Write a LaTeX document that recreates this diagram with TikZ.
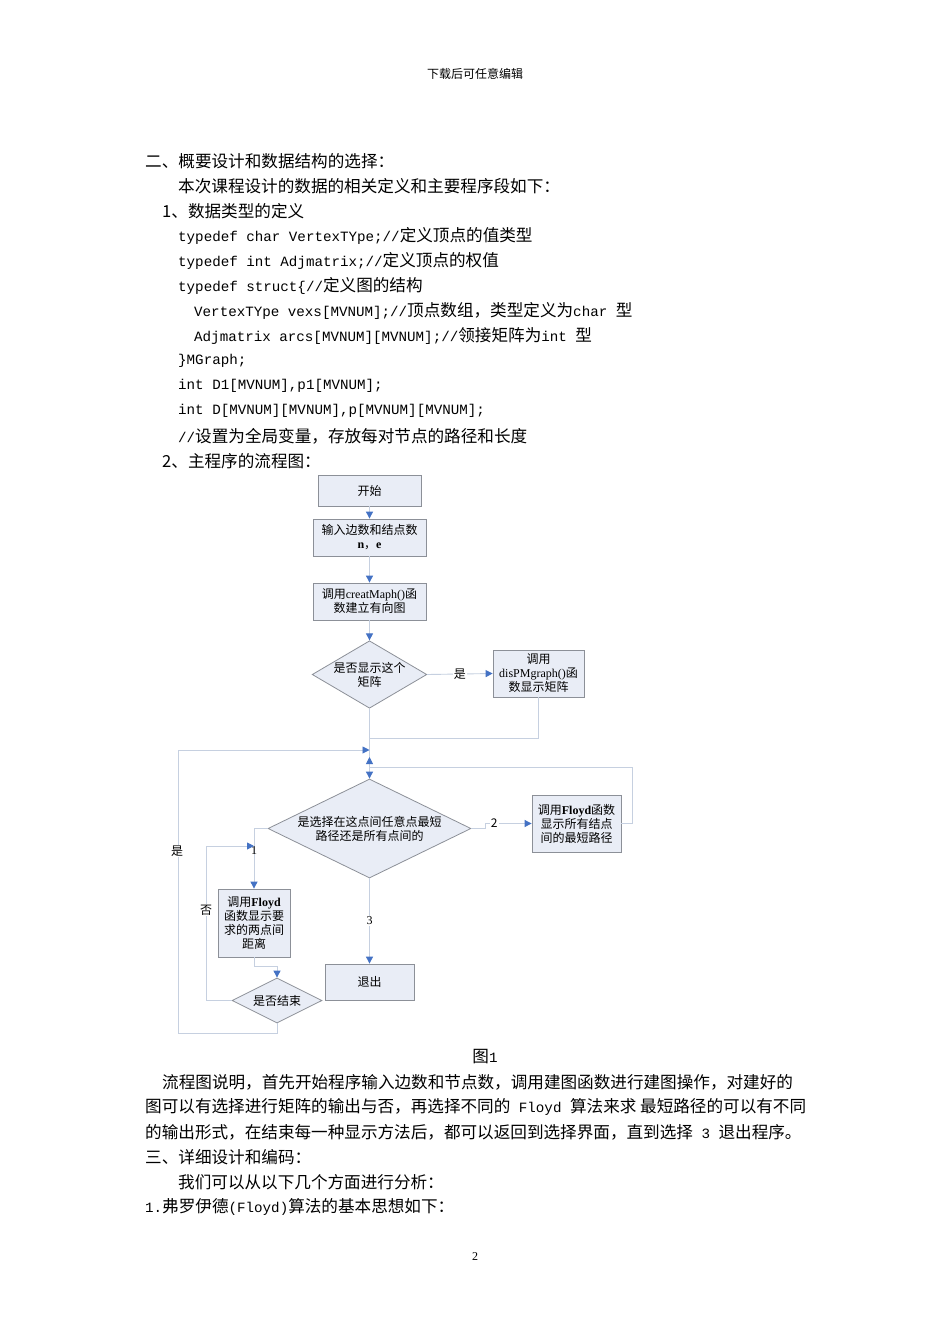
\documentclass[tikz,border=0pt]{standalone}
\usepackage{fontspec}
\setmainfont{Noto Sans CJK SC}
\newfontfamily\cm{Liberation Mono}
\newfontfamily\sr{Liberation Serif}
\usetikzlibrary{shapes.geometric,arrows.meta}
\definecolor{fillc}{HTML}{E9EDF6}
\definecolor{bordc}{HTML}{8C9098}
\definecolor{linec}{HTML}{C6D0E0}
\definecolor{arrc}{HTML}{4472C4}
\begin{document}
\begin{tikzpicture}[x=1pt,y=-1pt,
  txt/.style={anchor=west,inner sep=0pt,font=\fontsize{16.6}{16.6}\selectfont},
  fbox/.style={draw=bordc,fill=fillc,line width=0.8pt,inner sep=1pt,align=center,font=\fontsize{12}{14}\selectfont},
  fdia/.style={draw=bordc,fill=fillc,line width=0.8pt,diamond,inner sep=0pt,align=center,font=\fontsize{12}{14}\selectfont},
  conn/.style={draw=linec,line width=0.9pt,-{Triangle[length=7pt,width=7pt,color=arrc]}},
  plain/.style={draw=linec,line width=0.9pt},
  lab/.style={font=\fontsize{12}{12}\selectfont,inner sep=1pt,fill=white}]
\useasboundingbox (0,0) rectangle (950,1344);
\fill[white] (0,0) rectangle (950,1344);
\node[font=\fontsize{12}{12}\selectfont] (hdr) at (475,74) {下载后可任意编辑};
\newcommand\cd[1]{{\cm\fontsize{14.2}{14.2}\selectfont #1}}
\node[txt] (l1) at (145,161) {二、概要设计和数据结构的选择：};
\node[txt] (l2) at (178,186) {本次课程设计的数据的相关定义和主要程序段如下：};
\node[txt] (l3) at (162,211) {1、数据类型的定义};
\node[txt] (l4) at (178,236) {\cd{typedef char VertexTYpe;//}定义顶点的值类型};
\node[txt] (l5) at (178,261) {\cd{typedef int Adjmatrix;//}定义顶点的权值};
\node[txt] (l6) at (178,286) {\cd{typedef struct\{//}定义图的结构};
\node[txt] (l7) at (194,311) {\cd{VertexTYpe vexs[MVNUM];//}顶点数组，类型定义为\cd{char }型};
\node[txt] (l8) at (194,336) {\cd{Adjmatrix arcs[MVNUM][MVNUM];//}领接矩阵为\cd{int }型};
\node[txt] (l9) at (178,361) {\cd{\}MGraph;}};
\node[txt] (l10) at (178,386) {\cd{int D1[MVNUM],p1[MVNUM];}};
\node[txt] (l11) at (178,411) {\cd{int D[MVNUM][MVNUM],p[MVNUM][MVNUM];}};
\node[txt] (l12) at (178,436) {\cd{//}设置为全局变量，存放每对节点的路径和长度};
\node[txt] (l13) at (162,461) {2、主程序的流程图：};
% flowchart
\node[fbox,minimum width=103pt,minimum height=31pt] (start) at (369.5,490.5) {开始};
\node[fbox,minimum width=113pt,minimum height=37pt] (input) at (369.5,537.5) {输入边数和结点数\\{\sr\bfseries n}，{\sr\bfseries e}};
\node[fbox,minimum width=113pt,minimum height=37pt] (creat) at (369.5,601.5) {调用{\sr creatMaph()}函\\数建立有向图};
\node[fdia,minimum width=113pt,minimum height=67pt,aspect=1.7] (d1) at (369.5,674.5) {是否显示这个\\矩阵};
\node[fbox,minimum width=91pt,minimum height=47pt] (disp) at (538.5,673.5) {调用\\{\sr disPMgraph()}函\\数显示矩阵};
\node[fdia,minimum width=203pt,minimum height=99pt,aspect=2] (d2) at (369.5,828.5) {是选择在这点间任意点最短\\路径还是所有点间的};
\node[fbox,minimum width=89pt,minimum height=57pt] (fall) at (576.5,823.5) {调用{\sr\bfseries Floyd}函数\\显示所有结点\\间的最短路径};
\node[fbox,minimum width=72pt,minimum height=68pt] (ftwo) at (254,923) {调用{\sr\bfseries Floyd}\\函数显示要\\求的两点间\\距离};
\node[fbox,minimum width=89pt,minimum height=36pt] (quit) at (369.5,982) {退出};
\node[fdia,minimum width=90pt,minimum height=45pt,aspect=2] (end) at (277,1000.5) {是否结束};
\coordinate (m1) at (369.5,750);
\coordinate (m2) at (369.5,767);
\draw[conn] (start) -- (input);
\draw[conn] (input) -- (creat);
\draw[conn] (creat) -- (d1);
\draw[conn] (d1.east) -- node[lab]{是} (disp.west);
\draw[conn] (d1.south) -- (d2.north);
\draw[plain] (disp.south) |- (369.5,738);
\draw[conn] (end.south) -- (277,1033) -| (178,750) -- (m1);
\node[lab] (yes2) at (177,851) {是};
\draw[conn] (fall.east) -- (632,823.5) |- (m2) -- (369.5,757);
\draw[conn] (d2.east) -- (485,828.5) |- node[lab,pos=0.6]{2} (fall.west);
\draw[conn] (d2.west) -| (ftwo.north);
\node[lab,fill=none] (n1) at (254,851) {\sr 1};
\draw[conn] (ftwo.south) -- (254,966) -| (end.north);
\draw[conn] (end.west) -| (206,846) -- (254,846);
\node[lab] (no) at (206,910) {否};
\draw[conn] (d2.south) -- node[lab]{\sr 3} (quit.north);
% bottom text
\node[font=\fontsize{16.6}{16.6}\selectfont] (cap) at (485,1057) {图\cd{1}};
\node[txt] (p1) at (162,1082) {流程图说明，首先开始程序输入边数和节点数，调用建图函数进行建图操作，对建好的};
\node[txt] (p2) at (145,1107) {图可以有选择进行矩阵的输出与否，再选择不同的\cd{ Floyd }算法来求 最短路径的可以有不同};
\node[txt] (p3) at (145,1132) {的输出形式，在结束每一种显示方法后，都可以返回到选择界面，直到选择\cd{ 3 }退出程序。};
\node[txt] (p4) at (145,1157) {三、详细设计和编码：};
\node[txt] (p5) at (178,1182) {我们可以从以下几个方面进行分析：};
\node[txt] (p6) at (145,1207) {\cd{1.}弗罗伊德\cd{(Floyd)}算法的基本思想如下：};
\node[font=\fontsize{12}{12}\selectfont] (pg) at (475,1257) {\sr 2};
\end{tikzpicture}
\end{document}
